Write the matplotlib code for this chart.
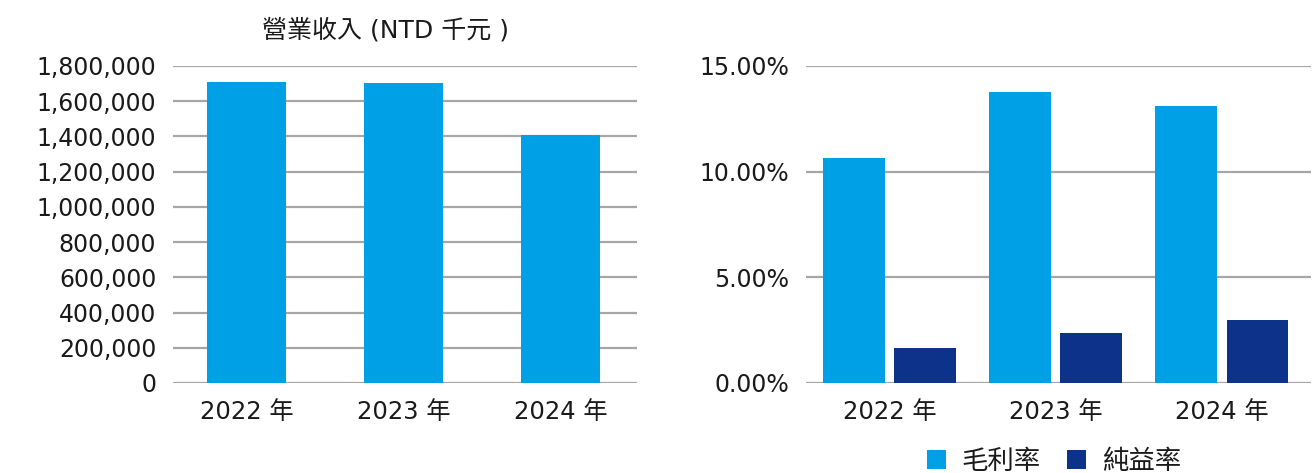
import numpy as np
import matplotlib.pyplot as plt
from matplotlib.ticker import FuncFormatter

plt.rcParams['font.family'] = ['DejaVu Sans', 'Noto Sans CJK TC']

# 資料
years = ['2022 年', '2023 年', '2024 年']
revenue = [1710000, 1705000, 1410000]          # 營業收入 (NTD 千元)
gross_margin = [10.64, 13.77, 13.10]           # 毛利率 (%)
net_margin = [1.64, 2.38, 2.99]                # 純益率 (%)

light_blue = '#00A0E6'
dark_blue = '#0D3289'
grid_color = '#A6A6A6'
text_color = '#1A1A1A'
fs = 17

fig = plt.figure(figsize=(13.13, 4.73), dpi=100)

x = np.arange(len(years))


def style_axes(ax):
    for s in ax.spines.values():
        s.set_visible(False)
    ax.yaxis.grid(True, color=grid_color, linewidth=1.6)
    ax.set_axisbelow(True)
    ax.tick_params(length=0, labelsize=fs, colors=text_color)
    ax.tick_params(axis='x', pad=12, labelsize=17.5)
    ax.tick_params(axis='y', pad=12)


# 左圖: 營業收入
ax1 = fig.add_axes([173 / 1313, 1 - 383 / 473, 464 / 1313, 317 / 473])
ax1.bar(x, revenue, width=0.5, color=light_blue)
ax1.set_ylim(0, 1800000)
ax1.set_yticks(np.arange(0, 1800001, 200000))
ax1.yaxis.set_major_formatter(FuncFormatter(lambda v, p: f'{v:,.0f}'))
ax1.set_xticks(x)
ax1.set_xticklabels(years)
ax1.set_xlim(-0.467, 2.486)
style_axes(ax1)
fig.text(385 / 1313, 1 - 30 / 473, '營業收入 (NTD 千元 )', ha='center', va='center',
         fontsize=18, color=text_color)

# 右圖: 毛利率 / 純益率
ax2 = fig.add_axes([806 / 1313, 1 - 383 / 473, 505 / 1313, 317 / 473])
w = 0.37
b1 = ax2.bar(x - 0.215, gross_margin, width=w, color=light_blue, label='毛利率')
b2 = ax2.bar(x + 0.215, net_margin, width=w, color=dark_blue, label='純益率')
ax2.set_ylim(0, 15)
ax2.set_yticks([0, 5, 10, 15])
ax2.yaxis.set_major_formatter(FuncFormatter(lambda v, p: f'{v:.2f}%'))
ax2.set_xticks(x)
ax2.set_xticklabels(years)
ax2.set_xlim(-0.503, 2.539)
style_axes(ax2)

fig.legend(handles=[b1, b2], loc='center', bbox_to_anchor=(1054 / 1313, 1 - 462 / 473),
           ncol=2, frameon=False, fontsize=19, handlelength=0.72, handleheight=0.72,
           handletextpad=0.6, columnspacing=1.0, labelcolor=text_color)

fig.savefig('out.png', dpi=100)
